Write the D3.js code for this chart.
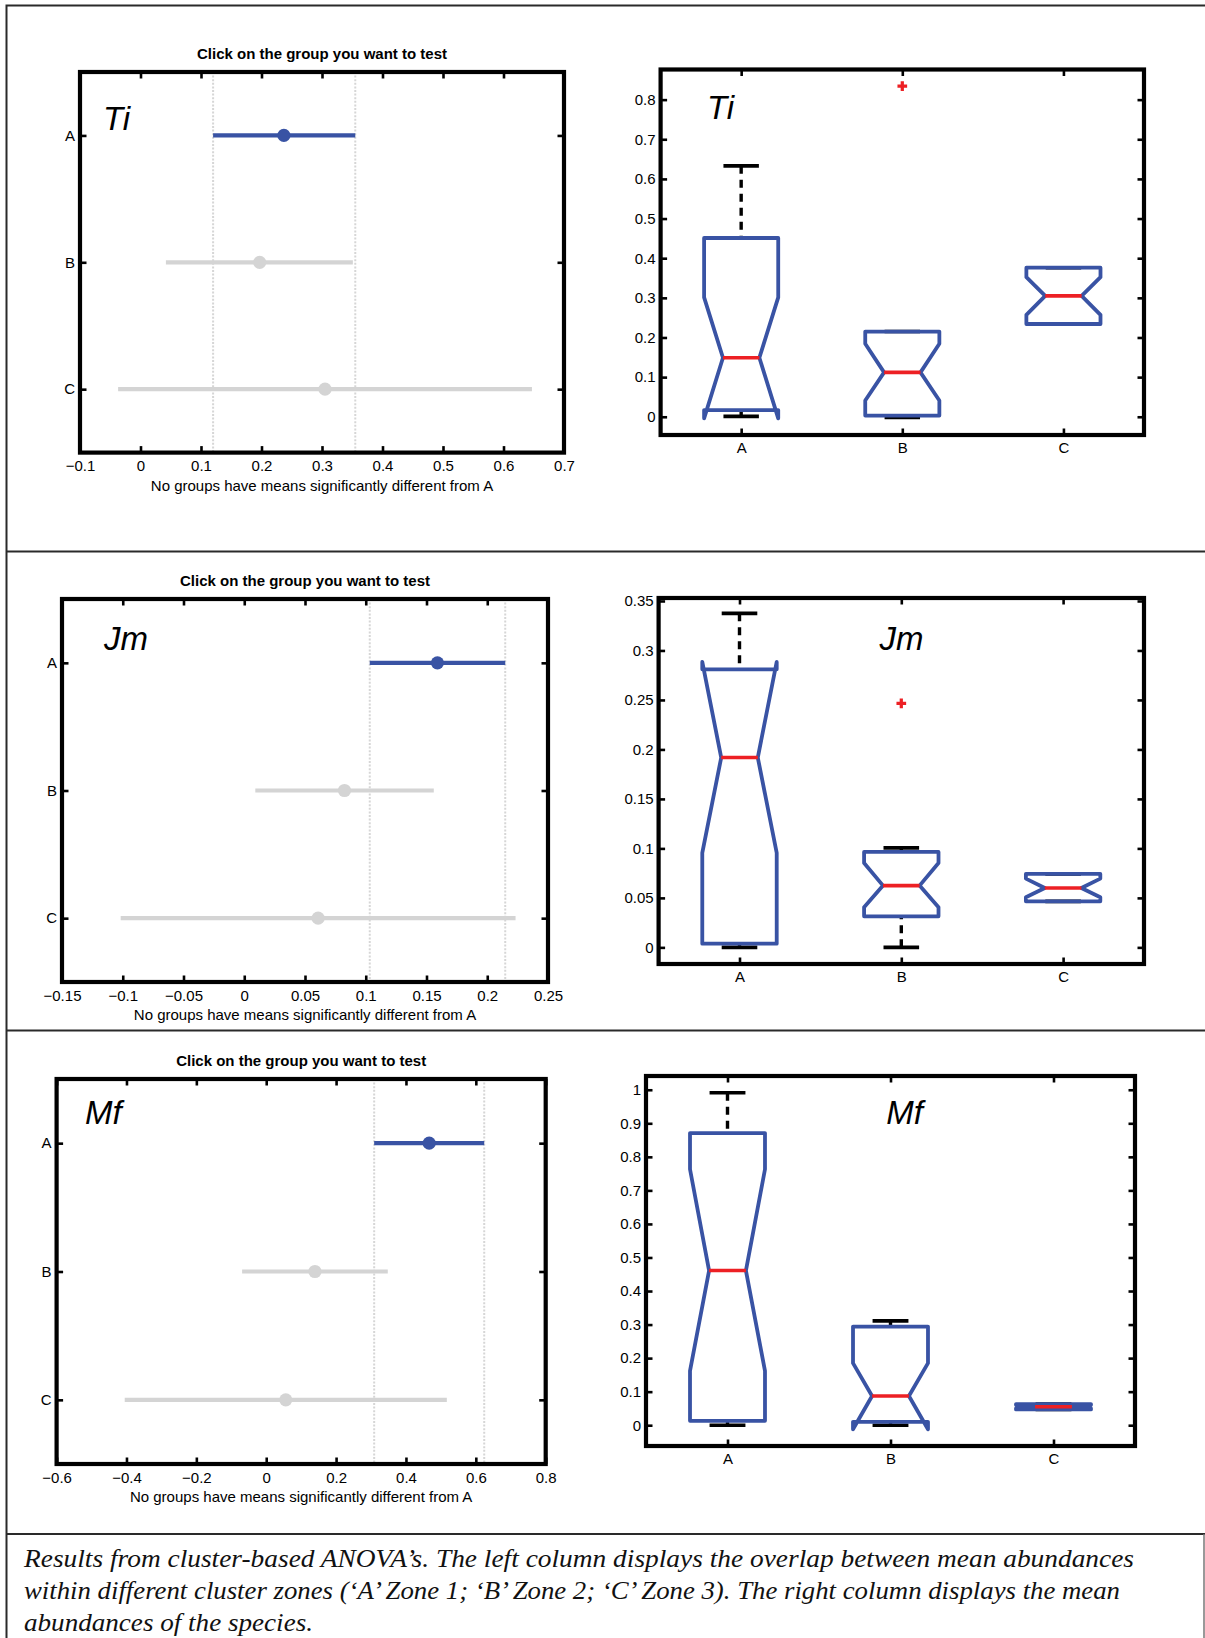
<!DOCTYPE html>
<html><head><meta charset="utf-8">
<script src="https://cdn.jsdelivr.net/npm/d3@7"></script>
<style>html,body{margin:0;padding:0;background:#fff;} svg{display:block;} text{font-family:"Liberation Sans", Arimo, Arial, sans-serif;}</style>
</head><body>
<svg id="fig" width="1205" height="1638"></svg>
<script>
// ---------------- DATA ----------------
const categories = ["A", "B", "C"];
const speciesNames = ["Ti", "Jm", "Mf"];
const leftTitle = "Click on the group you want to test";
const leftXLabel = "No groups have means significantly different from A";

// Left column: comparison intervals (mean and interval ends)
const tiMeans = [0.237, 0.197, 0.305];
const tiLower = [0.120, 0.042, -0.037];
const tiUpper = [0.355, 0.351, 0.647];
const tiXTicks = [-0.1, 0, 0.1, 0.2, 0.3, 0.4, 0.5, 0.6, 0.7];

const jmMeans = [0.159, 0.0825, 0.0608];
const jmLower = [0.1033, 0.0091, -0.1017];
const jmUpper = [0.2148, 0.156, 0.2233];
const jmXTicks = [-0.15, -0.1, -0.05, 0, 0.05, 0.1, 0.15, 0.2, 0.25];

const mfMeans = [0.4665, 0.1395, 0.056];
const mfLower = [0.309, -0.069, -0.405];
const mfUpper = [0.624, 0.348, 0.517];
const mfXTicks = [-0.6, -0.4, -0.2, 0, 0.2, 0.4, 0.6, 0.8];

// Right column: notched box plots
const tiQ1 = [0.017, 0.003, 0.234];
const tiMedian = [0.149, 0.112, 0.305];
const tiQ3 = [0.451, 0.215, 0.376];
const tiNotchLow = [-0.004, 0.041, 0.257];
const tiNotchHigh = [0.301, 0.184, 0.352];
const tiWhiskerLow = [0.001, -0.002, 0.234];
const tiWhiskerHigh = [0.633, 0.215, 0.376];
const tiOutliers = [[], [0.834], []];
const tiYTicks = [0, 0.1, 0.2, 0.3, 0.4, 0.5, 0.6, 0.7, 0.8];
const tiYLimits = [-0.046, 0.876];

const jmQ1 = [0.0037, 0.0314, 0.0465];
const jmMedian = [0.1918, 0.0624, 0.0600];
const jmQ3 = [0.2809, 0.0964, 0.0742];
const jmNotchLow = [0.0954, 0.0405, 0.0506];
const jmNotchHigh = [0.2884, 0.0853, 0.0695];
const jmWhiskerLow = [0.0, 0.0, 0.0465];
const jmWhiskerHigh = [0.3375, 0.1005, 0.0742];
const jmOutliers = [[], [0.2465], []];
const jmYTicks = [0, 0.05, 0.1, 0.15, 0.2, 0.25, 0.3, 0.35];
const jmYLimits = [-0.0168, 0.353];

const mfQ1 = [0.013, 0.010, 0.047];
const mfMedian = [0.461, 0.087, 0.055];
const mfQ3 = [0.871, 0.294, 0.063];
const mfNotchLow = [0.162, -0.012, 0.050];
const mfNotchHigh = [0.763, 0.185, 0.060];
const mfWhiskerLow = [0.0, 0.0, 0.047];
const mfWhiskerHigh = [0.991, 0.311, 0.063];
const mfOutliers = [[], [], []];
const mfYTicks = [0, 0.1, 0.2, 0.3, 0.4, 0.5, 0.6, 0.7, 0.8, 0.9, 1];
const mfYLimits = [-0.062, 1.041];

// species label anchors (in each panel's data coordinates)
const leftLabelX = [-0.062, -0.1154, -0.5187];
const leftLabelY = [0.957, 0.8995, 0.8506];
const rightLabelX = [0.788, 1.866, 1.974];
const rightLabelY = [0.7504, 0.3005, 0.898];

const captionLines = [
  "Results from cluster-based ANOVA\u2019s. The left column displays the overlap between mean abundances",
  "within different cluster zones (\u2018A\u2019 Zone 1; \u2018B\u2019 Zone 2; \u2018C\u2019 Zone 3). The right column displays the mean",
  "abundances of the species."
];

// ---------------- LAYOUT / STYLE ----------------
const leftFrames = [
  {x0: 80, x1: 564, y0: 72, y1: 452.6},
  {x0: 62, x1: 548, y0: 599, y1: 982},
  {x0: 56.6, x1: 545.7, y0: 1079, y1: 1464}
];
const rightFrames = [
  {x0: 660.6, x1: 1144, y0: 69.5, y1: 435},
  {x0: 658.6, x1: 1144, y0: 598, y1: 964},
  {x0: 646, x1: 1135, y0: 1076, y1: 1446}
];
const BLUE = "#3953a4", GREY = "#d4d4d4", RED = "#ed2024";
const FONT = '"Liberation Sans", Arimo, Arial, sans-serif';
const FS = 15;

const svg = d3.select("#fig");

function styleAxis(g) {
  g.select(".domain").remove();
  g.attr("font-family", null).attr("font-size", null);
  g.selectAll(".tick line").attr("stroke", "#000").attr("stroke-width", 2.6);
  g.selectAll("text").style("font-family", FONT).style("font-size", FS + "px").attr("fill", "#000");
}

function drawFrame(f) {
  svg.append("rect").attr("x", f.x0).attr("y", f.y0)
    .attr("width", f.x1 - f.x0).attr("height", f.y1 - f.y0)
    .attr("fill", "none").attr("stroke", "#000").attr("stroke-width", 4.2);
}

const TK = 6.5;

function drawIntervalPanel(i, means, lower, upper, xTicks) {
  const f = leftFrames[i];
  const x = d3.scaleLinear().domain([xTicks[0], xTicks[xTicks.length - 1]]).range([f.x0, f.x1]);
  const y = d3.scaleLinear().domain([0.5, 3.5]).range([f.y0, f.y1]);
  const g = svg.append("g");

  // reference lines at group A's interval
  [lower[0], upper[0]].forEach(v => {
    g.append("line").attr("x1", x(v)).attr("x2", x(v)).attr("y1", f.y0).attr("y2", f.y1)
      .attr("stroke", "#d6d6d6").attr("stroke-width", 2).attr("stroke-dasharray", "2,1.6");
  });

  const rows = categories.map((c, k) => ({c, k, m: means[k], lo: lower[k], hi: upper[k]}));
  g.selectAll(".ci").data(rows).join("line")
    .attr("x1", d => x(d.lo)).attr("x2", d => x(d.hi))
    .attr("y1", d => y(d.k + 1)).attr("y2", d => y(d.k + 1))
    .attr("stroke", d => d.k === 0 ? BLUE : GREY).attr("stroke-width", 4.2);
  g.selectAll(".pt").data(rows).join("circle")
    .attr("cx", d => x(d.m)).attr("cy", d => y(d.k + 1)).attr("r", 6.6)
    .attr("fill", d => d.k === 0 ? BLUE : GREY);

  // axes (inward ticks)
  const fmt = d3.format("~g");
  svg.append("g").attr("transform", `translate(0,${f.y1})`)
    .call(d3.axisBottom(x).tickValues(xTicks).tickFormat(fmt).tickSize(-TK).tickPadding(8)).call(styleAxis);
  svg.append("g").attr("transform", `translate(0,${f.y0})`)
    .call(d3.axisTop(x).tickValues(xTicks).tickFormat("").tickSize(-TK)).call(styleAxis);
  svg.append("g").attr("transform", `translate(${f.x0},0)`)
    .call(d3.axisLeft(y).tickValues([1, 2, 3]).tickFormat(v => categories[v - 1]).tickSize(-TK).tickPadding(5)).call(styleAxis);
  svg.append("g").attr("transform", `translate(${f.x1},0)`)
    .call(d3.axisRight(y).tickValues([1, 2, 3]).tickFormat("").tickSize(-TK)).call(styleAxis);
  drawFrame(f);

  const cx = (f.x0 + f.x1) / 2;
  svg.append("text").attr("x", cx).attr("y", f.y0 - 13).attr("text-anchor", "middle")
    .style("font-family", FONT).style("font-size", FS + "px").attr("font-weight", "bold").text(leftTitle);
  svg.append("text").attr("x", cx).attr("y", f.y1 + 38).attr("text-anchor", "middle")
    .style("font-family", FONT).style("font-size", FS + "px").text(leftXLabel);

  svg.append("text").attr("x", x(leftLabelX[i])).attr("y", y(leftLabelY[i]))
    .style("font-family", FONT).style("font-size", "33px").attr("font-style", "italic").text(speciesNames[i]);
}

function drawBoxPanel(i, q1, med, q3, nlo, nhi, wlo, whi, outl, yTicks, yLim) {
  const f = rightFrames[i];
  const x = d3.scaleLinear().domain([0.5, 3.5]).range([f.x0, f.x1]);
  const y = d3.scaleLinear().domain(yLim).range([f.y1, f.y0]);
  const g = svg.append("g");
  const BH = 0.23, NH = 0.113, CH = 0.11;

  const boxes = categories.map((c, k) => ({
    pos: k + 1, q1: q1[k], med: med[k], q3: q3[k], nlo: nlo[k], nhi: nhi[k], wlo: wlo[k], whi: whi[k], out: outl[k]
  }));

  // whiskers (dashed) and caps
  boxes.forEach(b => {
    if (b.whi > b.q3) g.append("line").attr("x1", x(b.pos)).attr("x2", x(b.pos))
      .attr("y1", y(b.whi)).attr("y2", y(b.q3)).attr("stroke", "#000").attr("stroke-width", 3.4)
      .attr("stroke-dasharray", "8,6");
    if (b.wlo < b.q1) g.append("line").attr("x1", x(b.pos)).attr("x2", x(b.pos))
      .attr("y1", y(b.wlo)).attr("y2", y(b.q1)).attr("stroke", "#000").attr("stroke-width", 3.4)
      .attr("stroke-dasharray", "8,6");
    [b.whi, b.wlo].forEach(v => {
      g.append("line").attr("x1", x(b.pos - CH)).attr("x2", x(b.pos + CH))
        .attr("y1", y(v)).attr("y2", y(v)).attr("stroke", "#000").attr("stroke-width", 3.6);
    });
  });

  // notched boxes
  const line = d3.line().x(d => x(d[0])).y(d => y(d[1]));
  g.selectAll(".box").data(boxes).join("path")
    .attr("d", b => line([
      [b.pos - BH, b.q1], [b.pos - BH, b.nlo], [b.pos - NH, b.med], [b.pos - BH, b.nhi], [b.pos - BH, b.q3],
      [b.pos + BH, b.q3], [b.pos + BH, b.nhi], [b.pos + NH, b.med], [b.pos + BH, b.nlo], [b.pos + BH, b.q1]
    ]) + "Z")
    .attr("fill", "none").attr("stroke", BLUE).attr("stroke-width", 3.8)
    .attr("stroke-linejoin", "round").attr("stroke-linecap", "round");

  // medians
  g.selectAll(".med").data(boxes).join("line")
    .attr("x1", b => x(b.pos - NH)).attr("x2", b => x(b.pos + NH))
    .attr("y1", b => y(b.med)).attr("y2", b => y(b.med))
    .attr("stroke", RED).attr("stroke-width", 3.6);

  // outliers
  const pts = boxes.flatMap(b => b.out.map(v => ({pos: b.pos, v})));
  g.selectAll(".out").data(pts).join("path")
    .attr("transform", d => `translate(${x(d.pos)},${y(d.v)})`)
    .attr("d", d3.symbol(d3.symbolCross, 52))
    .attr("fill", RED);

  const fmt = d3.format("~g");
  svg.append("g").attr("transform", `translate(${f.x0},0)`)
    .call(d3.axisLeft(y).tickValues(yTicks).tickFormat(fmt).tickSize(-TK).tickPadding(5)).call(styleAxis);
  svg.append("g").attr("transform", `translate(${f.x1},0)`)
    .call(d3.axisRight(y).tickValues(yTicks).tickFormat("").tickSize(-TK)).call(styleAxis);
  svg.append("g").attr("transform", `translate(0,${f.y1})`)
    .call(d3.axisBottom(x).tickValues([1, 2, 3]).tickFormat(v => categories[v - 1]).tickSize(-TK).tickPadding(7)).call(styleAxis);
  svg.append("g").attr("transform", `translate(0,${f.y0})`)
    .call(d3.axisTop(x).tickValues([1, 2, 3]).tickFormat("").tickSize(-TK)).call(styleAxis);
  drawFrame(f);

  svg.append("text").attr("x", x(rightLabelX[i])).attr("y", y(rightLabelY[i]))
    .style("font-family", FONT).style("font-size", "33px").attr("font-style", "italic").text(speciesNames[i]);
}

// page borders
const borderG = svg.append("g").attr("stroke", "#2a2a2a").attr("stroke-width", 2).attr("fill", "none");
borderG.append("path").attr("d", "M1206,5.5 H6.5 V1640");
[551.5, 1030.5, 1534].forEach(yy => borderG.append("line").attr("x1", 6).attr("x2", 1206).attr("y1", yy).attr("y2", yy));
svg.append("line").attr("x1", 1204).attr("x2", 1204).attr("y1", 1534).attr("y2", 1640)
  .attr("stroke", "#777").attr("stroke-width", 1.5);

drawIntervalPanel(0, tiMeans, tiLower, tiUpper, tiXTicks);
drawIntervalPanel(1, jmMeans, jmLower, jmUpper, jmXTicks);
drawIntervalPanel(2, mfMeans, mfLower, mfUpper, mfXTicks);

drawBoxPanel(0, tiQ1, tiMedian, tiQ3, tiNotchLow, tiNotchHigh, tiWhiskerLow, tiWhiskerHigh, tiOutliers, tiYTicks, tiYLimits);
drawBoxPanel(1, jmQ1, jmMedian, jmQ3, jmNotchLow, jmNotchHigh, jmWhiskerLow, jmWhiskerHigh, jmOutliers, jmYTicks, jmYLimits);
drawBoxPanel(2, mfQ1, mfMedian, mfQ3, mfNotchLow, mfNotchHigh, mfWhiskerLow, mfWhiskerHigh, mfOutliers, mfYTicks, mfYLimits);

// caption
const capLengths = [1110, 1096, 289];
const capBase = [1567, 1599, 1631];
captionLines.forEach((t, k) => {
  svg.append("text").attr("x", 24).attr("y", capBase[k])
    .style("font-family", '"Liberation Serif", "Times New Roman", serif')
    .attr("font-style", "italic").style("font-size", "24.5px").attr("fill", "#111")
    .attr("textLength", capLengths[k]).attr("lengthAdjust", "spacingAndGlyphs")
    .text(t);
});
</script>
</body></html>
